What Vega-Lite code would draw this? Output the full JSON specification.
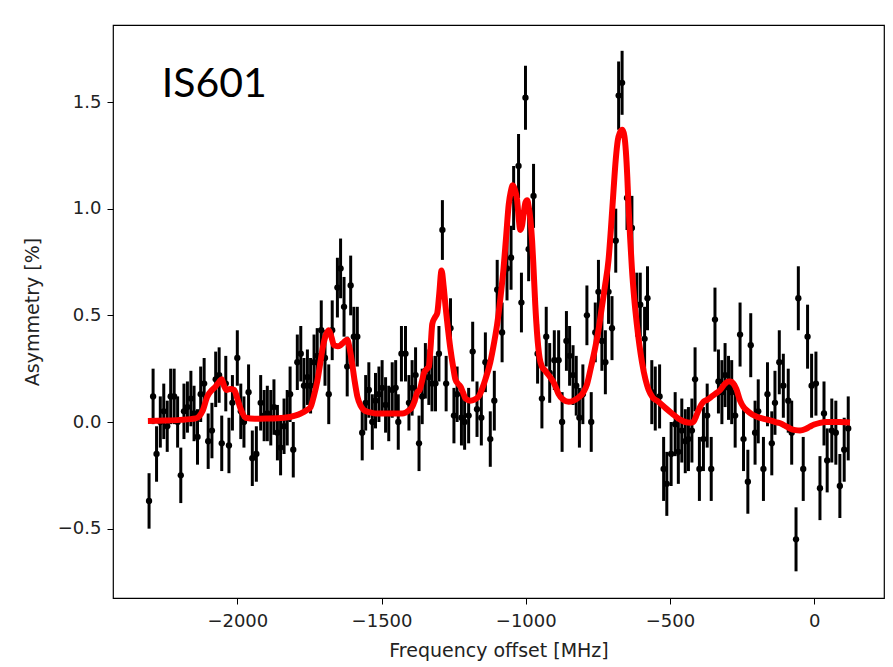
{
  "$schema": "https://vega.github.io/schema/vega-lite/v6.json",
  "width": 771,
  "height": 573,
  "autosize": {"type": "none"},
  "padding": {"left": 113, "top": 25, "right": 9, "bottom": 69},
  "background": "white",
  "config": {
    "view": {"stroke": "#000000", "strokeWidth": 1.2},
    "axis": {
      "domain": false,
      "grid": false,
      "ticks": true,
      "tickSize": 6,
      "tickColor": "#000000",
      "tickWidth": 1,
      "labelFont": "DejaVu Sans",
      "labelFontSize": 18,
      "labelColor": "#222222",
      "titleFont": "DejaVu Sans",
      "titleFontSize": 19,
      "titleFontWeight": "normal",
      "titleColor": "#222222"
    }
  },
  "datasets": {
    "pts": [
      {"f":-2306,"y":-0.37,"e":0.13},{"f":-2292,"y":0.12,"e":0.13},{"f":-2280,"y":-0.15,"e":0.13},{"f":-2267,"y":0.0,"e":0.12},
      {"f":-2255,"y":0.05,"e":0.13},{"f":-2243,"y":-0.02,"e":0.12},{"f":-2231,"y":0.12,"e":0.13},{"f":-2219,"y":0.12,"e":0.13},
      {"f":-2207,"y":0.0,"e":0.12},{"f":-2196,"y":-0.25,"e":0.13},{"f":-2185,"y":0.05,"e":0.13},{"f":-2173,"y":0.07,"e":0.12},
      {"f":-2161,"y":0.11,"e":0.13},{"f":-2150,"y":0.04,"e":0.13},{"f":-2138,"y":-0.07,"e":0.13},{"f":-2127,"y":0.13,"e":0.13},
      {"f":-2115,"y":0.18,"e":0.12},{"f":-2101,"y":-0.09,"e":0.13},{"f":-2088,"y":-0.04,"e":0.13},{"f":-2075,"y":0.20,"e":0.13},
      {"f":-2063,"y":0.22,"e":0.13},{"f":-2054,"y":-0.10,"e":0.13},{"f":-2040,"y":0.18,"e":0.13},{"f":-2029,"y":-0.11,"e":0.13},
      {"f":-2017,"y":0.09,"e":0.13},{"f":-2000,"y":0.30,"e":0.13},{"f":-1988,"y":0.05,"e":0.13},{"f":-1977,"y":0.0,"e":0.12},
      {"f":-1961,"y":0.14,"e":0.13},{"f":-1948,"y":-0.17,"e":0.13},{"f":-1934,"y":-0.15,"e":0.13},{"f":-1919,"y":0.09,"e":0.13},
      {"f":-1907,"y":0.03,"e":0.12},{"f":-1896,"y":0.04,"e":0.13},{"f":-1884,"y":0.02,"e":0.13},{"f":-1873,"y":0.07,"e":0.13},
      {"f":-1861,"y":-0.05,"e":0.13},{"f":-1850,"y":-0.12,"e":0.13},{"f":-1838,"y":-0.02,"e":0.13},{"f":-1827,"y":0.02,"e":0.13},
      {"f":-1817,"y":0.13,"e":0.13},{"f":-1806,"y":-0.13,"e":0.13},{"f":-1792,"y":0.28,"e":0.13},{"f":-1780,"y":0.32,"e":0.13},
      {"f":-1769,"y":0.17,"e":0.13},{"f":-1757,"y":0.21,"e":0.13},{"f":-1746,"y":0.17,"e":0.13},{"f":-1734,"y":0.28,"e":0.13},
      {"f":-1723,"y":0.31,"e":0.13},{"f":-1709,"y":0.43,"e":0.14},{"f":-1696,"y":0.30,"e":0.13},{"f":-1683,"y":0.13,"e":0.14},
      {"f":-1671,"y":0.43,"e":0.14},{"f":-1653,"y":0.63,"e":0.14},{"f":-1642,"y":0.72,"e":0.14},{"f":-1630,"y":0.54,"e":0.14},
      {"f":-1619,"y":0.26,"e":0.14},{"f":-1607,"y":0.64,"e":0.14},{"f":-1596,"y":0.40,"e":0.14},{"f":-1584,"y":0.40,"e":0.14},
      {"f":-1567,"y":-0.05,"e":0.13},{"f":-1555,"y":0.09,"e":0.13},{"f":-1544,"y":0.15,"e":0.13},{"f":-1532,"y":0.0,"e":0.13},
      {"f":-1521,"y":0.10,"e":0.13},{"f":-1509,"y":0.13,"e":0.13},{"f":-1498,"y":0.16,"e":0.13},{"f":-1486,"y":0.08,"e":0.13},
      {"f":-1475,"y":0.04,"e":0.13},{"f":-1463,"y":0.15,"e":0.13},{"f":-1451,"y":0.16,"e":0.13},{"f":-1442,"y":0.0,"e":0.13},
      {"f":-1431,"y":0.32,"e":0.13},{"f":-1417,"y":0.32,"e":0.13},{"f":-1405,"y":0.09,"e":0.13},{"f":-1394,"y":0.16,"e":0.13},
      {"f":-1382,"y":0.22,"e":0.13},{"f":-1370,"y":-0.10,"e":0.13},{"f":-1359,"y":0.12,"e":0.13},{"f":-1348,"y":0.24,"e":0.13},
      {"f":-1336,"y":0.21,"e":0.13},{"f":-1325,"y":0.18,"e":0.13},{"f":-1313,"y":0.18,"e":0.13},{"f":-1301,"y":0.32,"e":0.13},
      {"f":-1289,"y":0.90,"e":0.14},{"f":-1276,"y":0.18,"e":0.13},{"f":-1261,"y":0.44,"e":0.14},{"f":-1249,"y":0.03,"e":0.13},
      {"f":-1238,"y":0.13,"e":0.13},{"f":-1223,"y":0.02,"e":0.13},{"f":-1212,"y":0.0,"e":0.13},{"f":-1198,"y":0.03,"e":0.13},
      {"f":-1184,"y":0.33,"e":0.14},{"f":-1169,"y":0.06,"e":0.13},{"f":-1154,"y":0.02,"e":0.13},{"f":-1140,"y":0.28,"e":0.14},
      {"f":-1123,"y":-0.08,"e":0.13},{"f":-1109,"y":0.10,"e":0.14},{"f":-1099,"y":0.62,"e":0.14},{"f":-1082,"y":0.42,"e":0.14},
      {"f":-1065,"y":0.72,"e":0.15},{"f":-1051,"y":0.77,"e":0.15},{"f":-1042,"y":1.05,"e":0.15},{"f":-1025,"y":1.20,"e":0.15},
      {"f":-1015,"y":0.56,"e":0.14},{"f":-1001,"y":1.52,"e":0.15},{"f":-990,"y":0.81,"e":0.15},{"f":-973,"y":1.06,"e":0.15},
      {"f":-959,"y":0.32,"e":0.14},{"f":-944,"y":0.11,"e":0.14},{"f":-929,"y":0.40,"e":0.14},{"f":-917,"y":0.23,"e":0.14},
      {"f":-901,"y":0.29,"e":0.14},{"f":-886,"y":0.29,"e":0.14},{"f":-874,"y":0.0,"e":0.14},{"f":-859,"y":0.38,"e":0.14},
      {"f":-848,"y":0.31,"e":0.14},{"f":-836,"y":0.22,"e":0.14},{"f":-825,"y":0.17,"e":0.14},{"f":-814,"y":0.02,"e":0.14},
      {"f":-802,"y":0.13,"e":0.14},{"f":-788,"y":0.50,"e":0.14},{"f":-773,"y":0.0,"e":0.14},{"f":-759,"y":0.42,"e":0.14},
      {"f":-748,"y":0.61,"e":0.15},{"f":-736,"y":0.38,"e":0.14},{"f":-724,"y":0.28,"e":0.15},{"f":-713,"y":0.61,"e":0.15},
      {"f":-701,"y":0.44,"e":0.15},{"f":-688,"y":0.85,"e":0.15},{"f":-678,"y":1.53,"e":0.16},{"f":-666,"y":1.59,"e":0.15},
      {"f":-649,"y":1.05,"e":0.15},{"f":-632,"y":0.91,"e":0.15},{"f":-615,"y":0.55,"e":0.15},{"f":-603,"y":0.55,"e":0.15},
      {"f":-588,"y":0.39,"e":0.15},{"f":-578,"y":0.58,"e":0.15},{"f":-563,"y":0.14,"e":0.15},{"f":-551,"y":0.11,"e":0.15},
      {"f":-536,"y":0.12,"e":0.15},{"f":-522,"y":-0.22,"e":0.15},{"f":-511,"y":-0.29,"e":0.15},{"f":-496,"y":-0.15,"e":0.15},
      {"f":-482,"y":-0.01,"e":0.15},{"f":-471,"y":-0.14,"e":0.15},{"f":-459,"y":-0.04,"e":0.15},{"f":-447,"y":-0.09,"e":0.15},
      {"f":-436,"y":-0.08,"e":0.15},{"f":-424,"y":-0.04,"e":0.15},{"f":-413,"y":0.20,"e":0.15},{"f":-398,"y":-0.22,"e":0.15},
      {"f":-384,"y":-0.08,"e":0.15},{"f":-371,"y":0.03,"e":0.15},{"f":-357,"y":-0.22,"e":0.15},{"f":-344,"y":0.48,"e":0.15},
      {"f":-332,"y":0.19,"e":0.15},{"f":-320,"y":0.14,"e":0.15},{"f":-309,"y":0.22,"e":0.15},{"f":-297,"y":0.16,"e":0.15},
      {"f":-286,"y":0.14,"e":0.15},{"f":-274,"y":0.03,"e":0.15},{"f":-257,"y":0.41,"e":0.15},{"f":-245,"y":-0.08,"e":0.15},
      {"f":-230,"y":-0.28,"e":0.15},{"f":-220,"y":0.36,"e":0.15},{"f":-205,"y":-0.05,"e":0.15},{"f":-194,"y":0.05,"e":0.15},
      {"f":-176,"y":-0.22,"e":0.15},{"f":-162,"y":0.13,"e":0.15},{"f":-147,"y":-0.10,"e":0.15},{"f":-136,"y":0.09,"e":0.15},
      {"f":-121,"y":0.28,"e":0.15},{"f":-107,"y":0.17,"e":0.15},{"f":-90,"y":0.10,"e":0.15},{"f":-78,"y":-0.05,"e":0.15},
      {"f":-63,"y":-0.55,"e":0.15},{"f":-55,"y":0.58,"e":0.15},{"f":-38,"y":-0.22,"e":0.15},{"f":-23,"y":0.40,"e":0.15},
      {"f":-9,"y":0.17,"e":0.15},{"f":6,"y":0.18,"e":0.15},{"f":20,"y":-0.31,"e":0.15},{"f":34,"y":0.04,"e":0.15},
      {"f":45,"y":-0.18,"e":0.15},{"f":61,"y":-0.04,"e":0.15},{"f":75,"y":-0.05,"e":0.15},{"f":89,"y":-0.30,"e":0.15},
      {"f":104,"y":-0.13,"e":0.15},{"f":118,"y":-0.03,"e":0.15}
    ],
    "fit": [
      {"f":-2310,"y":0.005},{"f":-2250,"y":0.007},{"f":-2200,"y":0.01},{"f":-2144,"y":0.017},{"f":-2121,"y":0.05},
      {"f":-2104,"y":0.12},{"f":-2088,"y":0.15},{"f":-2075,"y":0.167},{"f":-2062,"y":0.19},{"f":-2054,"y":0.20},
      {"f":-2046,"y":0.17},{"f":-2038,"y":0.15},{"f":-2025,"y":0.155},{"f":-2011,"y":0.15},{"f":-2000,"y":0.11},
      {"f":-1988,"y":0.06},{"f":-1971,"y":0.02},{"f":-1940,"y":0.015},{"f":-1900,"y":0.016},{"f":-1838,"y":0.02},
      {"f":-1800,"y":0.03},{"f":-1780,"y":0.04},{"f":-1760,"y":0.055},{"f":-1746,"y":0.07},{"f":-1735,"y":0.12},
      {"f":-1723,"y":0.19},{"f":-1712,"y":0.28},{"f":-1705,"y":0.34},{"f":-1695,"y":0.40},{"f":-1683,"y":0.43},
      {"f":-1674,"y":0.40},{"f":-1665,"y":0.36},{"f":-1652,"y":0.355},{"f":-1642,"y":0.36},{"f":-1630,"y":0.375},
      {"f":-1619,"y":0.385},{"f":-1610,"y":0.34},{"f":-1602,"y":0.275},{"f":-1593,"y":0.19},{"f":-1584,"y":0.12},
      {"f":-1572,"y":0.075},{"f":-1561,"y":0.056},{"f":-1540,"y":0.045},{"f":-1521,"y":0.04},{"f":-1486,"y":0.04},
      {"f":-1428,"y":0.04},{"f":-1405,"y":0.055},{"f":-1394,"y":0.07},{"f":-1385,"y":0.10},{"f":-1376,"y":0.14},
      {"f":-1368,"y":0.15},{"f":-1360,"y":0.19},{"f":-1353,"y":0.23},{"f":-1342,"y":0.25},{"f":-1336,"y":0.26},
      {"f":-1330,"y":0.35},{"f":-1324,"y":0.46},{"f":-1315,"y":0.49},{"f":-1307,"y":0.51},{"f":-1300,"y":0.60},
      {"f":-1292,"y":0.71},{"f":-1285,"y":0.64},{"f":-1278,"y":0.54},{"f":-1270,"y":0.44},{"f":-1261,"y":0.34},
      {"f":-1252,"y":0.26},{"f":-1244,"y":0.20},{"f":-1235,"y":0.18},{"f":-1226,"y":0.165},{"f":-1218,"y":0.14},
      {"f":-1209,"y":0.11},{"f":-1192,"y":0.10},{"f":-1178,"y":0.105},{"f":-1163,"y":0.12},{"f":-1150,"y":0.16},
      {"f":-1140,"y":0.20},{"f":-1123,"y":0.28},{"f":-1110,"y":0.37},{"f":-1099,"y":0.46},{"f":-1088,"y":0.58},
      {"f":-1077,"y":0.72},{"f":-1068,"y":0.87},{"f":-1059,"y":1.02},{"f":-1052,"y":1.08},{"f":-1045,"y":1.11},
      {"f":-1038,"y":1.09},{"f":-1030,"y":1.04},{"f":-1024,"y":0.95},{"f":-1019,"y":0.90},{"f":-1013,"y":0.92},
      {"f":-1007,"y":0.98},{"f":-1001,"y":1.03},{"f":-995,"y":1.04},{"f":-990,"y":1.01},{"f":-984,"y":0.95},
      {"f":-978,"y":0.85},{"f":-973,"y":0.72},{"f":-967,"y":0.55},{"f":-961,"y":0.42},{"f":-952,"y":0.30},
      {"f":-944,"y":0.26},{"f":-932,"y":0.24},{"f":-921,"y":0.22},{"f":-910,"y":0.20},{"f":-903,"y":0.185},
      {"f":-895,"y":0.16},{"f":-886,"y":0.13},{"f":-870,"y":0.105},{"f":-851,"y":0.095},{"f":-835,"y":0.10},
      {"f":-817,"y":0.115},{"f":-800,"y":0.14},{"f":-788,"y":0.175},{"f":-775,"y":0.25},{"f":-759,"y":0.35},
      {"f":-748,"y":0.43},{"f":-736,"y":0.54},{"f":-725,"y":0.64},{"f":-713,"y":0.76},{"f":-705,"y":0.90},
      {"f":-696,"y":1.08},{"f":-688,"y":1.23},{"f":-681,"y":1.32},{"f":-674,"y":1.355},{"f":-665,"y":1.37},
      {"f":-658,"y":1.34},{"f":-653,"y":1.27},{"f":-648,"y":1.15},{"f":-644,"y":1.02},{"f":-638,"y":0.86},
      {"f":-632,"y":0.72},{"f":-624,"y":0.58},{"f":-615,"y":0.46},{"f":-606,"y":0.36},{"f":-597,"y":0.28},
      {"f":-585,"y":0.20},{"f":-574,"y":0.15},{"f":-560,"y":0.115},{"f":-540,"y":0.095},{"f":-515,"y":0.065},
      {"f":-493,"y":0.04},{"f":-470,"y":0.015},{"f":-447,"y":0.0},{"f":-430,"y":-0.003},{"f":-419,"y":0.0},
      {"f":-410,"y":0.025},{"f":-401,"y":0.055},{"f":-392,"y":0.08},{"f":-384,"y":0.095},{"f":-370,"y":0.105},
      {"f":-355,"y":0.12},{"f":-340,"y":0.135},{"f":-326,"y":0.15},{"f":-309,"y":0.18},{"f":-298,"y":0.19},
      {"f":-289,"y":0.19},{"f":-280,"y":0.18},{"f":-270,"y":0.155},{"f":-257,"y":0.10},{"f":-245,"y":0.07},
      {"f":-234,"y":0.055},{"f":-215,"y":0.035},{"f":-199,"y":0.025},{"f":-175,"y":0.015},{"f":-153,"y":0.008},
      {"f":-135,"y":0.0},{"f":-118,"y":-0.006},{"f":-100,"y":-0.018},{"f":-84,"y":-0.03},{"f":-65,"y":-0.038},
      {"f":-49,"y":-0.04},{"f":-30,"y":-0.033},{"f":-15,"y":-0.022},{"f":0,"y":-0.012},{"f":20,"y":-0.004},
      {"f":40,"y":0.0},{"f":55,"y":0.0},{"f":89,"y":0.0},{"f":124,"y":-0.002}
    ]
  },
  "encoding": {
    "x": {
      "field": "f",
      "type": "quantitative",
      "scale": {"domain": [-2431, 242], "nice": false, "zero": false},
      "axis": {"title": "Frequency offset [MHz]", "values": [-2000, -1500, -1000, -500, 0], "format": "d", "labelExpr": "replace(datum.label, '-', '\u2212')", "labelPadding": 8, "titlePadding": 11}
    },
    "y": {
      "field": "y",
      "type": "quantitative",
      "scale": {"domain": [-0.825, 1.861], "nice": false, "zero": false},
      "axis": {"title": "Asymmetry [%]", "values": [-0.5, 0, 0.5, 1.0, 1.5], "format": ".1f", "labelExpr": "replace(datum.label, '-', '\u2212')", "labelPadding": 6, "titlePadding": 15}
    }
  },
  "layer": [
    {
      "data": {"name": "pts"},
      "mark": {"type": "errorbar", "thickness": 3, "color": "#000000", "ticks": false},
      "encoding": {"yError": {"field": "e"}}
    },
    {
      "data": {"name": "pts"},
      "mark": {"type": "point", "filled": true, "color": "#000000", "size": 40, "opacity": 1}
    },
    {
      "data": {"name": "fit"},
      "mark": {"type": "line", "color": "#ff0000", "strokeWidth": 6, "interpolate": "monotone"}
    },
    {
      "data": {"values": [{"f": -2262, "y": 1.524, "t": "IS601"}]},
      "mark": {"type": "text", "align": "left", "baseline": "alphabetic", "font": "Lato", "fontSize": 41, "color": "#000000"},
      "encoding": {"text": {"field": "t"}}
    }
  ]
}
